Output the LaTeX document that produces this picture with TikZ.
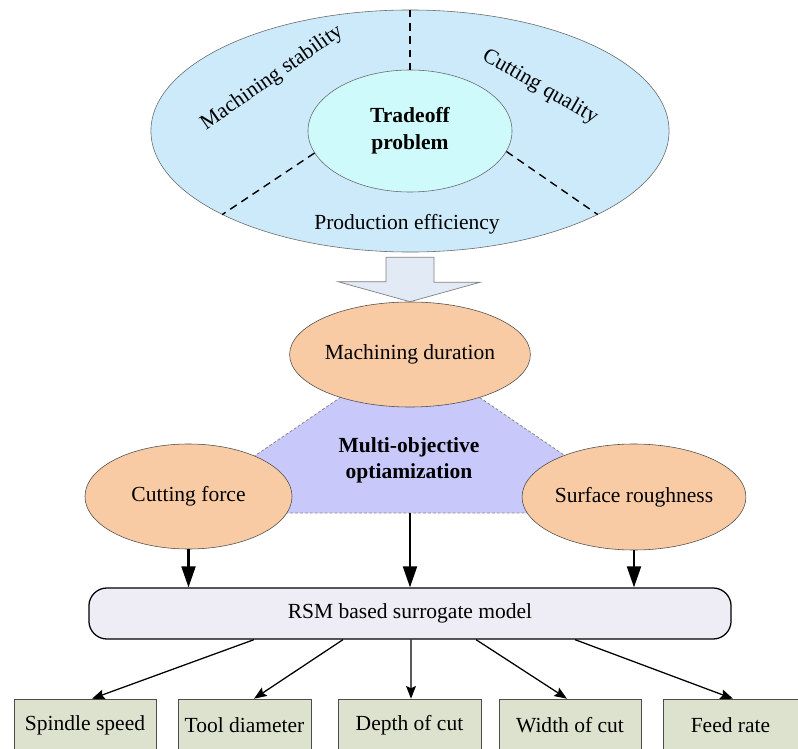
\documentclass[tikz,border=0pt]{standalone}
\usepackage{fontspec}
\setmainfont{Liberation Serif}
\usetikzlibrary{shapes.geometric,arrows.meta,calc}

\definecolor{outerblue}{RGB}{204,234,250}
\definecolor{innercyan}{RGB}{206,250,252}
\definecolor{arrowfill}{RGB}{226,234,246}
\definecolor{peach}{RGB}{248,203,165}
\definecolor{lavender}{RGB}{200,200,250}
\definecolor{rsmfill}{RGB}{238,237,245}
\definecolor{paramfill}{RGB}{221,226,207}

\tikzset{
  lbl/.style={font=\fontsize{15.3}{18.5}\selectfont},
  goal/.style={ellipse, draw=black!70, fill=peach, inner sep=0pt, lbl},
  param/.style={rectangle, draw=black!70, fill=paramfill, minimum height=1.325cm, lbl},
  fat/.style={line width=1.5pt, -{Triangle[length=15pt,width=10pt]}},
  branch/.style={line width=0.9pt, -{Stealth[length=9pt,width=7pt,inset=1.5pt]}},
  sep/.style={line width=1pt, dash pattern=on 5.5pt off 4pt},
}

\begin{document}
\begin{tikzpicture}[x=0.025cm,y=-0.025cm]
\useasboundingbox (0,0) rectangle (798,749);

% tradeoff
\node[ellipse, draw=black!60, fill=outerblue, inner sep=0pt,
  minimum width=12.95cm, minimum height=6.05cm] (outer) at (410,131) {};
\node[ellipse, draw=black!60, fill=innercyan, inner sep=0pt, align=center,
  minimum width=5.1cm, minimum height=3.05cm, lbl, font=\fontsize{15.3}{19.5}\selectfont\bfseries]
  (inner) at (410,131) {Tradeoff\\problem};
\draw[sep] (outer.north) -- (inner.north);
\draw[sep] (inner.193) -- (outer.204);
\draw[sep] (inner.348) -- (outer.336);
\node[lbl, rotate=35] (stab) at (272,78) {Machining stability};
\node[lbl, rotate=-30] (qual) at (540,87) {Cutting quality};
\node[lbl] (eff) at (407,224) {Production efficiency};

% objectives
\draw[draw=black!45, fill=lavender, line width=0.6pt, dash pattern=on 2pt off 1.5pt]
  (410,350) -- (171,513) -- (649,513) -- cycle;
\node[goal, minimum width=5.5cm, minimum height=2.625cm] (dur) at (410,354.5) {Machining duration};
\node[goal, minimum width=5.175cm, minimum height=2.625cm] (force) at (188.5,496.5) {Cutting force};
\node[goal, minimum width=5.1cm, minimum height=2.65cm] (rough) at (634,497) {Surface roughness};
\node[lbl, align=center, font=\fontsize{15.3}{18.5}\selectfont\bfseries] (moo) at (409,460)
  {Multi-objective\\optiamization};
\coordinate (base) at (410,513);

\draw[draw=black!50, fill=arrowfill, line width=0.5pt]
  ($(outer.south)+(-24,5)$) -- ++(48,0) -- ++(0,25) -- ++(46,0) -- (dur.north)
  -- ++(-72,-20) -- ++(48,0) -- cycle;

% surrogate model
\node[rectangle, rounded corners=0.45cm, draw=black, line width=0.9pt, fill=rsmfill,
  minimum width=16.05cm, minimum height=1.275cm, lbl] (rsm) at (410,613.5) {RSM based surrogate model};

\draw[fat] (force.south) -- (force.south |- rsm.north);
\draw[fat] (base) -- (base |- rsm.north);
\draw[fat] (rough.south) -- (rough.south |- rsm.north);

% parameters
\node[param, minimum width=3.55cm] (spindle) at (85,725.5) {Spindle speed};
\node[param, minimum width=3.325cm] (tool) at (244.5,725.5) {Tool diameter};
\node[param, minimum width=3.575cm] (depth) at (409.5,725.5) {Depth of cut};
\node[param, minimum width=3.55cm] (width) at (570,725.5) {Width of cut};
\node[param, minimum width=3.375cm] (feed) at (730.5,725.5) {Feed rate};

\foreach \s/\b/\e in {-156/spindle/7, -67/tool/9.5, 1/depth/1.5, 66/width/-3, 165/feed/2.5}
  \draw[branch] ($(rsm.south)+(\s,0)$) -- ($(\b.north)+(\e,0)$);
\end{tikzpicture}
\end{document}
